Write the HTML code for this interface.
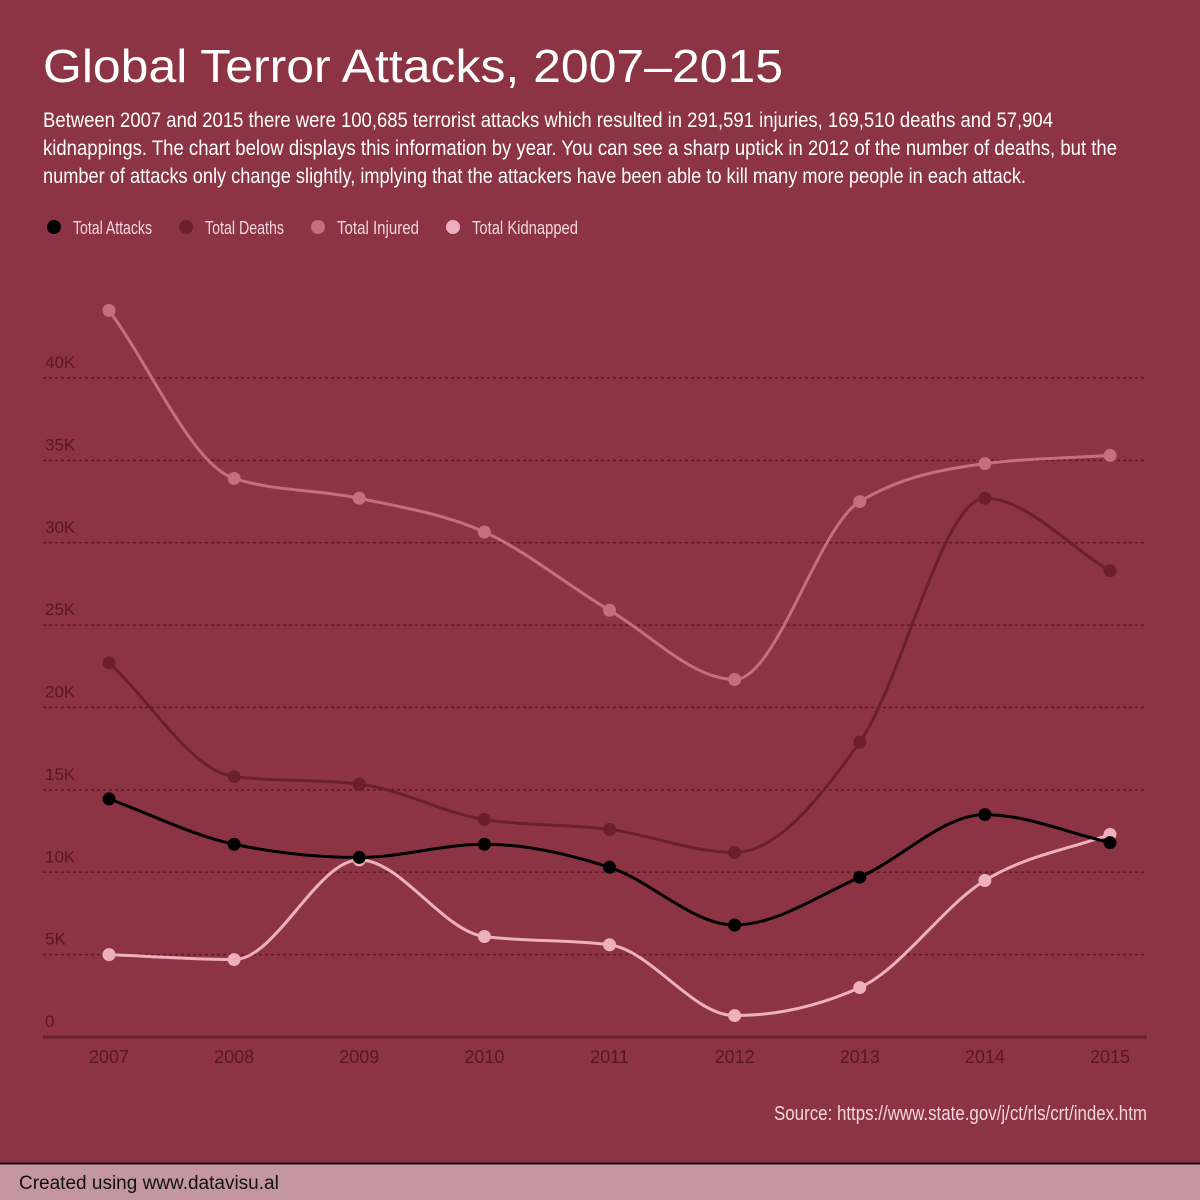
<!DOCTYPE html>
<html><head><meta charset="utf-8"><style>
html,body{margin:0;padding:0;background:#8c3443;}
svg{display:block;font-family:"Liberation Sans",sans-serif;}
</style></head><body>
<svg id="chart" width="1200" height="1200" viewBox="0 0 1200 1200">
<rect x="0" y="0" width="1200" height="1200" fill="#8c3443"/>
<text x="43" y="82" font-size="46" fill="#ffffff" textLength="740" lengthAdjust="spacingAndGlyphs">Global Terror Attacks, 2007–2015</text>
<g fill="#ffffff" font-size="21">
<text x="43" y="127" textLength="1010" lengthAdjust="spacingAndGlyphs">Between 2007 and 2015 there were 100,685 terrorist attacks which resulted in 291,591 injuries, 169,510 deaths and 57,904</text>
<text x="43" y="155" textLength="1074" lengthAdjust="spacingAndGlyphs">kidnappings. The chart below displays this information by year. You can see a sharp uptick in 2012 of the number of deaths, but the</text>
<text x="43" y="183" textLength="983" lengthAdjust="spacingAndGlyphs">number of attacks only change slightly, implying that the attackers have been able to kill many more people in each attack.</text>
</g>
<g id="legend"></g>
<g id="grid"></g>
<g id="series"></g>
<text x="1147" y="1120" font-size="20" fill="#f2d5da" text-anchor="end" textLength="373" lengthAdjust="spacingAndGlyphs">Source: https://www.state.gov/j/ct/rls/crt/index.htm</text>
<rect x="0" y="1163" width="1200" height="37" fill="#c4979f"/>
<line x1="0" y1="1163.5" x2="1200" y2="1163.5" stroke="#1a0a0d" stroke-width="2"/>
<text x="19" y="1189" font-size="19" fill="#111">Created using www.datavisu.al</text>
</svg>
<script>
const years = ["2007","2008","2009","2010","2011","2012","2013","2014","2015"];
const attacks = [14450,11700,10900,11700,10300,6800,9700,13500,11800];
const deaths = [22700,15800,15350,13200,12600,11200,17900,32700,28300];
const injured = [44100,33900,32700,30650,25900,21700,32500,34800,35300];
const kidnapped = [5000,4700,10750,6100,5600,1300,3000,9500,12300];
const yTicks = [0,5000,10000,15000,20000,25000,30000,35000,40000];
const yTickLabels = ["0","5K","10K","15K","20K","25K","30K","35K","40K"];
const seriesNames = ["Total Attacks","Total Deaths","Total Injured","Total Kidnapped"];

const NS="http://www.w3.org/2000/svg";
function mk(tag,attrs,parent){const e=document.createElementNS(NS,tag);for(const k in attrs)e.setAttribute(k,attrs[k]);parent.appendChild(e);return e;}
const x0=109,x1=1110,yBase=1037,yTop=378;
function xs(i){return x0+(x1-x0)*i/(years.length-1);}
function ys(v){return yBase-(yBase-yTop)*v/40000;}

const grid=document.getElementById('grid');
yTicks.forEach((t,i)=>{
  if(t>0){const l=mk('line',{x1:43,x2:1147,y1:ys(t),y2:ys(t),stroke:'#5e1726','stroke-width':1.5,'stroke-dasharray':'3,3'},grid);
  
  }
  const tx=mk('text',{x:45,y:ys(t)-10,'font-size':17,fill:'#5a1525'},grid);
  tx.textContent=yTickLabels[i];
  
  
});
const ax=mk('line',{x1:43,x2:1147,y1:yBase,y2:yBase,stroke:'#6a1d2b','stroke-width':3},grid);


years.forEach((y,i)=>{
  const tx=mk('text',{x:xs(i),y:1063,'font-size':18,fill:'#5a1525','text-anchor':'middle'},grid);
  tx.textContent=y;
  
  
});

function monotonePath(pts){
  const n=pts.length;const dx=[],m=[],t=[];
  for(let i=0;i<n-1;i++){dx[i]=pts[i+1][0]-pts[i][0];m[i]=(pts[i+1][1]-pts[i][1])/dx[i];}
  for(let i=0;i<n;i++){
    if(i===0)t[i]=m[0];else if(i===n-1)t[i]=m[n-2];
    else{if(m[i-1]*m[i]<=0)t[i]=0;else{const h0=dx[i-1],h1=dx[i],p=(m[i-1]*h1+m[i]*h0)/(h0+h1);
      t[i]=(Math.sign(m[i-1])+Math.sign(m[i]))*Math.min(Math.abs(m[i-1]),Math.abs(m[i]),0.5*Math.abs(p));}}
  }
  let d='M'+pts[0][0]+','+pts[0][1];
  for(let i=0;i<n-1;i++){const h=dx[i]/3;
    d+='C'+(pts[i][0]+h)+','+(pts[i][1]+h*t[i])+','+(pts[i+1][0]-h)+','+(pts[i+1][1]-h*t[i+1])+','+pts[i+1][0]+','+pts[i+1][1];}
  return d;
}
const colors=['#000000','#6b1f2e','#c46f80','#efb0bd'];
const data=[attacks,deaths,injured,kidnapped];
const keys=['attacks','deaths','injured','kidnapped'];
const ser=document.getElementById('series');
const order=[2,1,3,0];
order.forEach(s=>{
  const g=mk('g',{},ser);
  
  
  const pts=data[s].map((v,i)=>[xs(i),ys(v)]);
  const p=mk('path',{d:monotonePath(pts),fill:'none',stroke:colors[s],'stroke-width':3},g);
  
  
  pts.forEach((pt,i)=>{
    const c=mk('circle',{cx:pt[0],cy:pt[1],r:6.5,fill:colors[s]},g);
    
    
  });
});
const leg=document.getElementById('legend');
const lx=[54,186,318,453],lt=[79,79,82,106];
seriesNames.forEach((nm,i)=>{
  const c=mk('circle',{cx:lx[i],cy:227,r:7,fill:colors[i]},leg);
  
  
  const t=mk('text',{x:lx[i]+19,y:234,'font-size':18,fill:'#f2d5da',textLength:lt[i],lengthAdjust:'spacingAndGlyphs'},leg);
  t.textContent=nm;
  
  
});
</script>
</body></html>
